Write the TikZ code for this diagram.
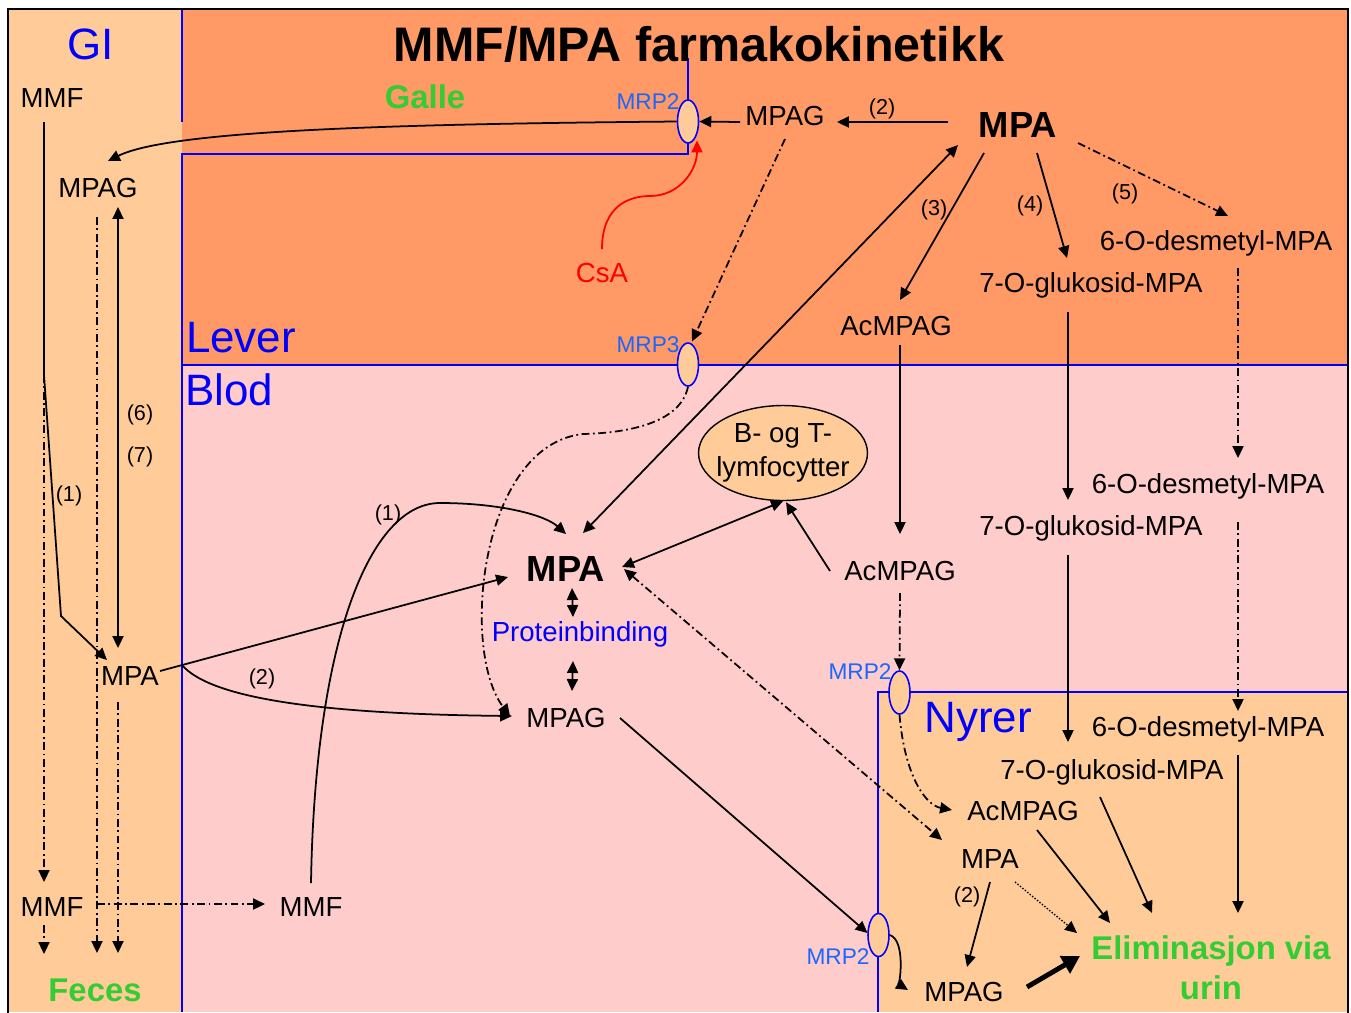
\documentclass[tikz,border=0pt]{standalone}
\usepackage{fontspec}
\setmainfont{Liberation Sans}
\usetikzlibrary{arrows.meta,calc,shapes.geometric}
\definecolor{PKliver}{HTML}{FF9966}
\definecolor{PKpeach}{HTML}{FFCC99}
\definecolor{PKblood}{HTML}{FFCCCC}
\definecolor{PKblue}{HTML}{0000FF}
\definecolor{PKmrp}{HTML}{1A66FF}
\definecolor{PKgreen}{HTML}{33CC33}
\definecolor{PKred}{HTML}{FF0000}
\tikzset{
  txt/.style={inner sep=0pt, font=\fontsize{15.7}{18}\selectfont, text height=11.2pt, text depth=0pt},
  bigtxt/.style={inner sep=0pt, font=\fontsize{20.7}{24}\selectfont\bfseries, text height=14.8pt, text depth=0pt},
  titletxt/.style={inner sep=0pt, font=\fontsize{27.6}{32}\selectfont\bfseries, text height=19.8pt, text depth=0pt},
  region/.style={inner sep=0pt, font=\fontsize{25}{30}\selectfont, text=PKblue, text height=17.9pt, text depth=0pt},
  greentxt/.style={inner sep=0pt, font=\fontsize{18.7}{22.7}\selectfont\bfseries, text=PKgreen, text height=13.4pt, text depth=0pt},
  mrptxt/.style={inner sep=0pt, font=\fontsize{12.9}{15}\selectfont, text=PKmrp, text height=9.2pt, text depth=0pt},
  numtxt/.style={inner sep=0pt, font=\fontsize{12.3}{15}\selectfont, text height=8.8pt, text depth=0pt},
  pump/.style={ellipse, draw=PKblue, line width=0.9pt, fill=PKpeach, minimum width=0.42cm, minimum height=0.86cm, inner sep=0pt},
  lymph/.style={ellipse, draw, line width=0.8pt, fill=PKpeach, minimum width=3.38cm, minimum height=1.9cm, inner xsep=-5pt, inner ysep=0pt, align=center, font=\fontsize{15.7}{19.3}\selectfont},
  arr/.style={-{Triangle[length=6.8pt,width=6.3pt]}, line width=1pt},
  darr/.style={{Triangle[length=6.8pt,width=6.3pt]}-{Triangle[length=6.8pt,width=6.3pt]}, line width=1pt},
  dd/.style={dash pattern=on 4.5pt off 2pt on 1pt off 2pt},
  wall/.style={draw=PKblue, line width=0.9pt}
}
\begin{document}
\begin{tikzpicture}[x=0.02cm, y=-0.02cm]
\useasboundingbox (0,0) rectangle (1351,1012);
\fill[white] (0,0) rectangle (1351,1012);
\fill[PKpeach] (8,9) rectangle (182,1012);
\fill[PKliver] (182,9) rectangle (1348,365);
\fill[PKblood] (182,365) rectangle (1348,1012);
\fill[PKpeach] (878,692) rectangle (1348,1012);
\draw[wall] (182,9) -- (182,122) (182,1012) -- (182,154) -- (688,154) -- (688,58);
\draw[wall] (182,365) -- (1348,365) (878,1012) -- (878,692) -- (1348,692);
\draw[line width=1.3pt] (8,1020) -- (8,9) -- (1348,9) -- (1348,1020);

\node[titletxt] (title) at (699,44) {MMF/MPA farmakokinetikk};
\node[region] (gi) at (91,44) {GI};
\node[region] (lever) at (241,337) {Lever};
\node[region] (blod) at (229,390) {Blod};
\node[region] (nyrer) at (978,717) {Nyrer};
\node[greentxt] (galle) at (425,97) {Galle};
\node[greentxt] (feces) at (95,990) {Feces};
\node[inner sep=0pt, font=\fontsize{18.7}{22.7}\selectfont\bfseries, text=PKgreen, align=center] (elim) at (1211,968) {Eliminasjon via\\urin};

\node[txt] (mmfG) at (52,98) {MMF};
\node[txt] (mpagG) at (98,188) {MPAG};
\node[txt] (mpaG) at (130,676) {MPA};
\node[txt] (mmfB) at (52,907) {MMF};
\node[txt] (mmfM) at (311,907) {MMF};
\node[txt] (mpagT) at (785,116) {MPAG};
\node[bigtxt] (mpaT) at (1018,124) {MPA};
\node[txt, text=PKred] (csa) at (602,273) {CsA};
\node[txt] (desL) at (1216,241) {6-O-desmetyl-MPA};
\node[txt] (gluL) at (1091,283) {7-O-glukosid-MPA};
\node[txt] (acL) at (896,326) {AcMPAG};
\node[lymph] (lym) at (783,453) {B- og T-\\lymfocytter};
\node[bigtxt] (mpaM) at (566,568) {MPA};
\node[txt, text=PKblue] (prot) at (580,632) {Proteinbinding};
\node[txt] (mpagM) at (566,718) {MPAG};
\node[txt] (acB) at (900,571) {AcMPAG};
\node[txt] (desB) at (1208,484) {6-O-desmetyl-MPA};
\node[txt] (gluB) at (1091,526) {7-O-glukosid-MPA};
\node[txt] (desK) at (1208,727) {6-O-desmetyl-MPA};
\node[txt] (gluK) at (1112,770) {7-O-glukosid-MPA};
\node[txt] (acK) at (1023,811) {AcMPAG};
\node[txt] (mpaK) at (990,859) {MPA};
\node[txt] (mpagK) at (964,992) {MPAG};

\node[pump] (pT) at (688,121.5) {};
\node[pump] (p3) at (688,364.5) {};
\node[pump] (pM) at (899.5,692.5) {};
\node[pump] (pB) at (878.5,935) {};
\node[mrptxt] (mrpT) at (648,101) {MRP2};
\node[mrptxt] (mrp3) at (648,344) {MRP3};
\node[mrptxt] (mrpM) at (860,671) {MRP2};
\node[mrptxt] (mrpB) at (838,956) {MRP2};

\node[numtxt] (n2T) at (882,107) {(2)};
\node[numtxt] (n3) at (934,208) {(3)};
\node[numtxt] (n4) at (1030,204) {(4)};
\node[numtxt] (n5) at (1125,192) {(5)};
\node[numtxt] (n6) at (140,413) {(6)};
\node[numtxt] (n7) at (140,455) {(7)};
\node[numtxt] (n1G) at (69,494) {(1)};
\node[numtxt] (n1M) at (388,513) {(1)};
\node[numtxt] (n2M) at (262,677) {(2)};
\node[numtxt] (n2K) at (967,895) {(2)};

\coordinate (split) at (44,375);
\coordinate (kink) at (61,616);
\draw[arr] ($(mmfG)+(-8,24)$) -- (split) -- (kink) -- ($(mpaG)+(-23,-16)$);
\draw[arr,dd] (split) -- ($(mmfB)+(-8,-25)$);
\draw[arr,dd] ($(mmfB)+(-8,18)$) -- ($(feces)+(-51,-36)$);
\draw[arr,dd] ($(mpagG)+(-1,29)$) -- ($(feces)+(2,-37)$);
\draw[darr] ($(mpagG)+(20,19)$) -- ($(mpaG)+(-12,-28)$);
\draw[arr,dd] ($(mpaG)+(-12,26)$) -- ($(feces)+(23,-37)$);
\draw[arr,dd] ($(mmfB)+(45,-3)$) -- ($(mmfM)+(-46,-3)$);
\draw[arr] ($(mpaG)+(30,-5)$) -- ($(mpaM)+(-58,9)$);
\draw[arr] ($(mpaG)+(52,-11)$) .. controls +(30,35) and +(-182,-2) .. ($(mpagM)+(-54,-2)$);
\draw[arr] ($(mmfM)+(0,-24)$) .. controls (315,640) and (370,503) .. (440,503) .. controls (500,503) and (545,515) .. ($(mpaM)+(0,-34)$);

\draw[darr] ($(mpaT)+(-60,21)$) -- ($(mpaM)+(17,-35)$);
\draw[arr] ($(mpaT)+(-70,-2)$) -- ($(mpagT)+(52,6)$);
\draw[arr] ($(mpagT)+(-45,6)$) -- (pT.east);
\draw[arr] (pT.west) .. controls +(-278,2.5) and +(62,-31) .. ($(mpagG)+(10,-27)$);
\draw[arr,PKred] ($(csa)+(0,-24)$) .. controls +(0,-44) and +(-20,0) .. (650,196) .. controls +(30,0) and +(0,29) .. ($(pT)+(9,19)$);
\draw[arr,dd] ($(mpagT)+(0,23)$) -- ($(p3)+(4,-23)$);
\draw[arr,dd] (p3.south) .. controls +(-8,38) and +(40,-1) .. (583,434) .. controls +(-103,11) and +(-50,-66) .. ($(mpagM)+(-56,-2)$);
\draw[darr,dd] ($(mpaM)+(6,20)$) -- ($(prot)+(-7,-15)$);
\draw[darr,dd] ($(prot)+(-7,29)$) -- ($(mpagM)+(6,-27)$);
\draw[darr] ($(mpaM)+(56,-1)$) -- (lym.south);
\draw[arr] ($(acB)+(-70,0)$) -- ($(lym.south)+(3,1)$);
\draw[arr] ($(mpaT)+(-34,29)$) -- ($(acL)+(4,-26)$);
\draw[arr] ($(acL)+(4,19)$) -- ($(acB)+(0,-37)$);
\draw[arr,dd] ($(acB)+(0,22)$) -- (pM.north);
\draw[arr,dd] (pM.south) .. controls +(5,60) and +(-27,-5) .. ($(acK)+(-71,-1)$);
\draw[darr,dd] ($(mpaM)+(58,1)$) -- ($(mpaK)+(-48,-19)$);

\draw[arr] ($(mpaT)+(19,29)$) -- ($(gluL)+(-24,-25)$);
\draw[arr,dd] ($(mpaT)+(60,19)$) -- ($(desL)+(12,-25)$);
\draw[arr] ($(gluL)+(-23,29)$) -- ($(gluB)+(-23,-26)$);
\draw[arr,dd] ($(desL)+(22,27)$) -- ($(desB)+(30,-26)$);
\draw[arr] ($(gluB)+(-23,29)$) -- ($(gluK)+(-44,-28)$);
\draw[arr,dd] ($(desB)+(30,38)$) -- ($(desK)+(30,-16)$);

\draw[arr] ($(mpagM)+(54,0)$) -- ($(pB)+(-11,-2)$);
\draw[arr] (pB.east) .. controls +(16,5) and +(-8,-5) .. ($(mpagK)+(-56,-2)$);
\draw[arr] ($(mpaK)+(0,23)$) -- ($(mpagK)+(3,-25)$);
\draw[arr, line width=0.8pt, dash pattern=on 0.8pt off 1pt] ($(mpaK)+(25,23)$) -- ($(elim)+(-134,-35)$);
\draw[arr] ($(acK)+(14,19)$) -- ($(elim)+(-101,-45)$);
\draw[arr] ($(gluK)+(-12,27)$) -- ($(elim)+(-59,-55)$);
\draw[arr] ($(desK)+(30,28)$) -- ($(elim)+(27,-55)$);
\draw[-{Triangle[length=10pt,width=11pt]}, line width=2.8pt] ($(mpagK)+(63,-5)$) -- ($(elim)+(-131,-12)$);
\end{tikzpicture}
\end{document}
